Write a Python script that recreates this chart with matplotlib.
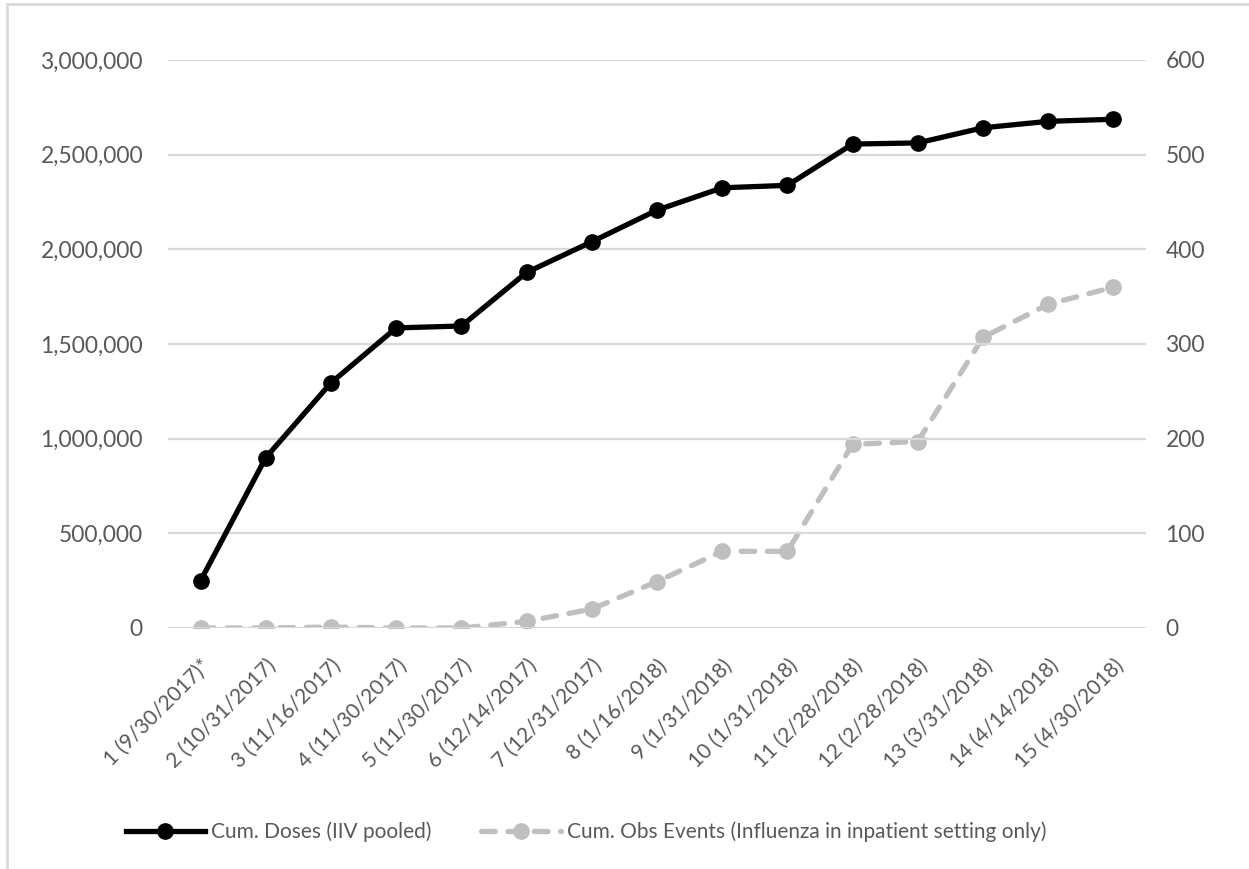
import matplotlib
matplotlib.use("Agg")
import matplotlib.pyplot as plt
from matplotlib.ticker import FuncFormatter, MultipleLocator
from matplotlib.lines import Line2D
from matplotlib.patches import Rectangle

# Reporting periods
periods = ["1 (9/30/2017)*", "2 (10/31/2017)", "3 (11/16/2017)", "4 (11/30/2017)",
           "5 (11/30/2017)", "6 (12/14/2017)", "7 (12/31/2017)", "8 (1/16/2018)",
           "9 (1/31/2018)", "10 (1/31/2018)", "11 (2/28/2018)", "12 (2/28/2018)",
           "13 (3/31/2018)", "14 (4/14/2018)", "15 (4/30/2018)"]

# Cumulative doses (left axis)
cum_doses = [250000, 900000, 1295000, 1585000, 1595000, 1878000, 2040000, 2207000,
             2325000, 2338000, 2556000, 2562000, 2642000, 2676000, 2687000]

# Cumulative observed events (right axis)
cum_events = [0, 0, 1, 0, 0, 7, 20, 49, 81, 81, 194, 197, 307, 342, 360]

label_doses = "Cum. Doses (IIV pooled)"
label_events = "Cum. Obs Events (Influenza in inpatient setting only)"

plt.rcParams["font.family"] = ["Lato", "DejaVu Sans"]
tick_color = "#595959"
grid_color = "#D9D9D9"
gray = "#BFBFBF"
dash = (0, (2.6, 2.4))

fig = plt.figure(figsize=(12.49, 8.69), dpi=100)
ax = fig.add_axes([168 / 1249, 1 - 628 / 869, (1146 - 168) / 1249, (628 - 60) / 869])
ax2 = ax.twinx()

x = list(range(len(periods)))

ax.set_ylim(0, 3000000)
ax.set_xlim(-0.5, len(periods) - 0.5)
ax.yaxis.set_major_locator(MultipleLocator(500000))
ax.yaxis.set_major_formatter(FuncFormatter(lambda v, p: f"{int(v):,}"))
ax.grid(axis="y", color=grid_color, linewidth=1.6)
ax.set_axisbelow(True)

ax2.set_ylim(0, 600)
ax2.yaxis.set_major_locator(MultipleLocator(100))

ax.plot(x, cum_doses, color="black", linewidth=3.8, marker="o", markersize=11,
        zorder=4, solid_capstyle="round")
ax2.plot(x, cum_events, color=gray, linewidth=3.8, marker="o", markersize=11,
         linestyle=dash, dash_capstyle="round", zorder=3)

# Doses line drawn above events line
ax.set_zorder(ax2.get_zorder() + 1)
ax.patch.set_visible(False)

for a in (ax, ax2):
    for s in a.spines.values():
        s.set_visible(False)
    a.tick_params(length=0, labelcolor=tick_color)

ax.tick_params(axis="y", pad=18, labelsize=16.5)
ax2.tick_params(axis="y", pad=14, labelsize=16.5)

ax.set_xticks(x)
ax.set_xticklabels(periods, rotation=45, ha="right", rotation_mode="anchor")
ax.tick_params(axis="x", pad=20, labelsize=15)

handles = [
    Line2D([], [], color="black", linewidth=3.8, marker="o", markersize=11),
    Line2D([], [], color=gray, linewidth=3.8, marker="o", markersize=11,
           linestyle=dash, dash_capstyle="round"),
]
leg = fig.legend(handles, [label_doses, label_events], loc="center",
                 bbox_to_anchor=(586 / 1249, 1 - 832 / 869), ncol=2, frameon=False,
                 fontsize=15, handlelength=3.8, columnspacing=2.4, handletextpad=0.3)
for t in leg.get_texts():
    t.set_color(tick_color)

# Chart area border
fig.patches.append(Rectangle((7 / 1249, -0.1), 1.2, 1 - 4 / 869 + 0.1,
                             transform=fig.transFigure, fill=False,
                             edgecolor=grid_color, linewidth=2))

fig.savefig("out.png", dpi=100)
